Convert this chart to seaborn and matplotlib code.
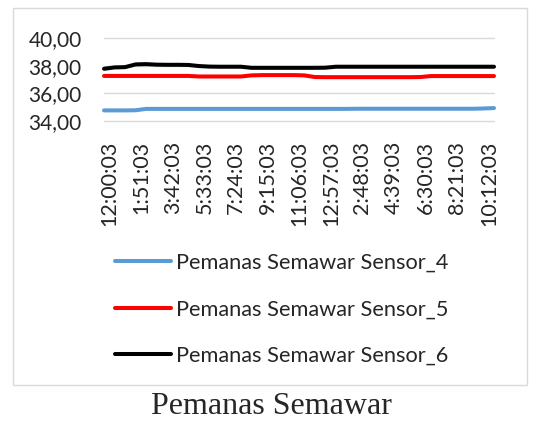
import matplotlib
matplotlib.use('Agg')
import matplotlib.pyplot as plt
import matplotlib.transforms as mtransforms
from matplotlib.patches import Rectangle
import pandas as pd
import seaborn as sns

# ── Data (sampled every 37 min from 12:00:03) ───────────────────────────────
minutes = [k * 37 for k in range(38)]

sensor_4 = [34.75, 34.75, 34.75, 34.76, 34.86, 34.86, 34.86, 34.86, 34.86, 34.86,
            34.86, 34.86, 34.86, 34.86, 34.86, 34.86, 34.86, 34.86, 34.86, 34.86,
            34.86, 34.86, 34.86, 34.86, 34.87, 34.87, 34.87, 34.87, 34.87, 34.87,
            34.87, 34.87, 34.87, 34.87, 34.87, 34.87, 34.89, 34.92]

sensor_5 = [37.26, 37.26, 37.26, 37.26, 37.26, 37.26, 37.26, 37.26, 37.26, 37.22,
            37.22, 37.22, 37.22, 37.22, 37.30, 37.32, 37.32, 37.32, 37.32, 37.30,
            37.18, 37.17, 37.17, 37.17, 37.17, 37.17, 37.17, 37.17, 37.17, 37.17,
            37.18, 37.25, 37.25, 37.25, 37.25, 37.25, 37.25, 37.25]

sensor_6 = [37.78, 37.88, 37.90, 38.10, 38.12, 38.08, 38.07, 38.07, 38.06, 37.98,
            37.94, 37.93, 37.93, 37.93, 37.85, 37.85, 37.85, 37.85, 37.85, 37.85,
            37.85, 37.86, 37.93, 37.93, 37.93, 37.93, 37.93, 37.93, 37.93, 37.93,
            37.93, 37.93, 37.93, 37.93, 37.93, 37.93, 37.93, 37.93]

series_names = ['Pemanas Semawar Sensor_4', 'Pemanas Semawar Sensor_5', 'Pemanas Semawar Sensor_6']
series_colors = ['#5b9bd5', '#ff0000', '#000000']

tick_minutes = [k * 111 for k in range(13)]
tick_labels = ['12:00:03', '1:51:03', '3:42:03', '5:33:03', '7:24:03', '9:15:03', '11:06:03',
               '12:57:03', '2:48:03', '4:39:03', '6:30:03', '8:21:03', '10:12:03']

y_ticks = [34, 36, 38, 40]
y_labels = ['34,00', '36,00', '38,00', '40,00']

# ── Long-form table ─────────────────────────────────────────────────────────
df = pd.DataFrame({
    'minute': minutes * 3,
    'value': sensor_4 + sensor_5 + sensor_6,
    'series': [n for n in series_names for _ in minutes],
})

sns.set_theme(style='white')
plt.rcParams['font.family'] = ['Lato', 'DejaVu Sans']

W, H = 543, 421
fig = plt.figure(figsize=(W / 100, H / 100), dpi=100)
ax = fig.add_axes([104 / W, 1 - 120.7 / H, 390 / W, 82.4 / H])

for y in y_ticks:
    ax.axhline(y, color='#d9d9d9', lw=1.0, zorder=0)

sns.lineplot(data=df, x='minute', y='value', hue='series', palette=series_colors,
             hue_order=series_names, lw=2.9, ax=ax, legend=True)
for ln in ax.get_lines():
    ln.set_solid_capstyle('round')
    ln.set_clip_on(False)

ax.set_xlim(minutes[0], minutes[-1])
ax.set_ylim(34, 40)
ax.set_yticks(y_ticks)
ax.set_yticklabels(y_labels)
ax.set_xticks(tick_minutes)
ax.set_xticklabels(tick_labels, rotation=90)
ax.tick_params(axis='x', length=0, pad=14.5, labelsize=15.5)
ax.tick_params(axis='y', length=0, pad=16, labelsize=15)
ax.set_xlabel('')
ax.set_ylabel('')
for s in ax.spines.values():
    s.set_visible(False)

# nudge rotated labels right, as in the original
shift = mtransforms.ScaledTranslation(0.055, 0, fig.dpi_scale_trans)
for lbl in ax.get_xticklabels():
    lbl.set_transform(lbl.get_transform() + shift)

handles, labels = ax.get_legend_handles_labels()
ax.legend(handles, labels, loc='upper left', bbox_to_anchor=(104 / W, 1 - 242 / H),
          bbox_transform=fig.transFigure, frameon=False, fontsize=15.7,
          handlelength=2.55, handletextpad=0.23, labelspacing=1.22, borderpad=0)

fig.patches.append(Rectangle((13 / W, 1 - 385 / H), 514 / W, 377 / H, transform=fig.transFigure,
                             fill=False, edgecolor='#d9d9d9', lw=1.0))

fig.text(0.5, 1 - 407 / H, 'Pemanas Semawar', ha='center', va='center',
         family='Liberation Serif', fontsize=23)

fig.savefig('out.png', dpi=100)
